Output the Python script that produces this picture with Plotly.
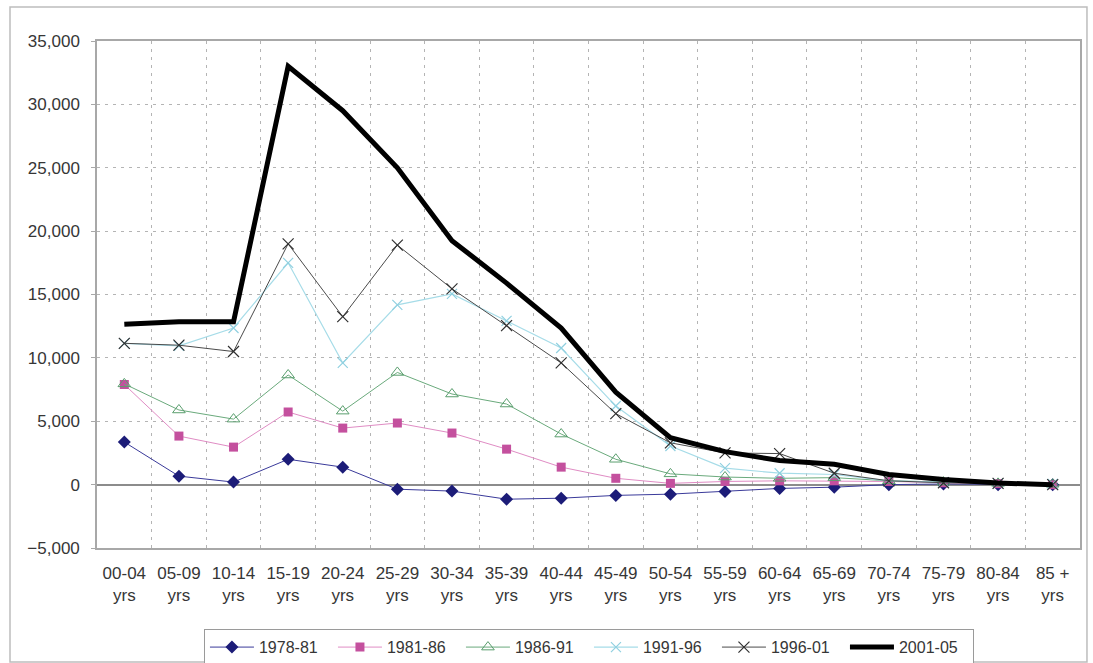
import plotly.graph_objects as go

# Age bands (x categories)
age_bands = ["00-04", "05-09", "10-14", "15-19", "20-24", "25-29", "30-34", "35-39",
             "40-44", "45-49", "50-54", "55-59", "60-64", "65-69", "70-74", "75-79",
             "80-84", "85 +"]
tick_text = [f"{a}<br>yrs" for a in age_bands]

# Net change per period
s_1978_81 = [3360, 670, 200, 2000, 1380, -360, -510, -1150, -1070, -850, -750, -550,
             -300, -200, 0, 50, 0, 0]
s_1981_86 = [7900, 3830, 2960, 5730, 4460, 4860, 4070, 2800, 1380, 500, 100, 250,
             300, 300, 250, 150, 80, 0]
s_1986_91 = [7950, 5890, 5170, 8650, 5800, 8850, 7150, 6360, 3990, 2000, 850, 600,
             500, 550, 300, 200, 100, 30]
s_1991_96 = [11150, 10950, 12360, 17500, 9600, 14180, 15050, 12920, 10780, 6200, 3050,
             1300, 900, 800, 300, 200, 100, 50]
s_1996_01 = [11150, 11000, 10500, 19000, 13250, 18900, 15450, 12550, 9600, 5600, 3300,
             2500, 2450, 900, 300, 150, 100, 0]
s_2001_05 = [12650, 12850, 12850, 33000, 29500, 25000, 19250, 15900, 12350, 7300, 3700,
             2600, 1900, 1600, 800, 400, 120, 0]

FONT = "Liberation Sans, Arial, sans-serif"
TEXT = "#363636"

fig = go.Figure()

fig.add_trace(go.Scatter(
    x=age_bands, y=s_1978_81, name="1978-81", mode="lines+markers",
    line=dict(color="#3a3a9a", width=1),
    marker=dict(symbol="diamond", size=10, color="#1c1c78"),
))
fig.add_trace(go.Scatter(
    x=age_bands, y=s_1981_86, name="1981-86", mode="lines+markers",
    line=dict(color="#e08cc4", width=1),
    marker=dict(symbol="square", size=9, color="#c4509e"),
))
fig.add_trace(go.Scatter(
    x=age_bands, y=s_1986_91, name="1986-91", mode="lines+markers",
    line=dict(color="#6aaa7c", width=1),
    marker=dict(symbol="triangle-up-open", size=11, color="#5a9e6e", line=dict(width=1)),
))
fig.add_trace(go.Scatter(
    x=age_bands, y=s_1991_96, name="1991-96", mode="lines+markers",
    line=dict(color="#a6dce8", width=1.2),
    marker=dict(symbol="x-thin-open", size=10, color="#90d0e0", line=dict(width=1.2)),
))
fig.add_trace(go.Scatter(
    x=age_bands, y=s_1996_01, name="1996-01", mode="lines+markers",
    line=dict(color="#4a4a4a", width=1),
    marker=dict(symbol="x-thin-open", size=11, color="#303030", line=dict(width=1.2)),
))
fig.add_trace(go.Scatter(
    x=age_bands, y=s_2001_05, name="2001-05", mode="lines",
    line=dict(color="#000000", width=5),
))

grid_color = "#b4b4b4"
frame_color = "#a8a8a8"

fig.update_layout(
    width=1093, height=663,
    margin=dict(l=97, r=13, t=41, b=115, autoexpand=False),
    paper_bgcolor="white", plot_bgcolor="white",
    font=dict(family=FONT, size=17, color=TEXT),
    showlegend=True,
    legend=dict(
        orientation="h", xref="container", yref="container",
        x=0.1866, xanchor="left", y=0.051, yanchor="top",
        bordercolor="#9a9a9a", borderwidth=1, bgcolor="white",
        font=dict(family=FONT, size=16, color=TEXT),
        itemwidth=44, entrywidth=69, entrywidthmode="pixels",
        traceorder="normal",
    ),
    xaxis=dict(
        type="category", categoryorder="array", categoryarray=age_bands,
        tickmode="array", tickvals=age_bands, ticktext=tick_text,
        tickson="boundaries", ticks="", showgrid=True,
        gridcolor=grid_color, griddash="3px,5px", gridwidth=1,
        showline=True, mirror=True, linecolor=frame_color, linewidth=1.5,
        range=[-0.5, 17.5], zeroline=False, ticklabelstandoff=9,
        automargin=False,
    ),
    yaxis=dict(
        range=[-5000, 35000], dtick=5000, tickformat=",d",
        showgrid=True, gridcolor=grid_color, griddash="3px,5px", gridwidth=1,
        zeroline=True, zerolinecolor="#8c8c8c", zerolinewidth=1.5,
        showline=True, mirror=True, linecolor=frame_color, linewidth=1.5,
        ticks="outside", ticklen=4, tickcolor=frame_color, ticklabelstandoff=8,
        automargin=False,
    ),
    shapes=[dict(
        type="rect", xref="paper", yref="paper",
        x0=-0.0885, x1=1.0071, y0=-0.2249, y1=1.0671,
        line=dict(color="#bdbdbd", width=1.5), fillcolor="rgba(0,0,0,0)", layer="below",
    )],
)

fig.write_html("out.html")
